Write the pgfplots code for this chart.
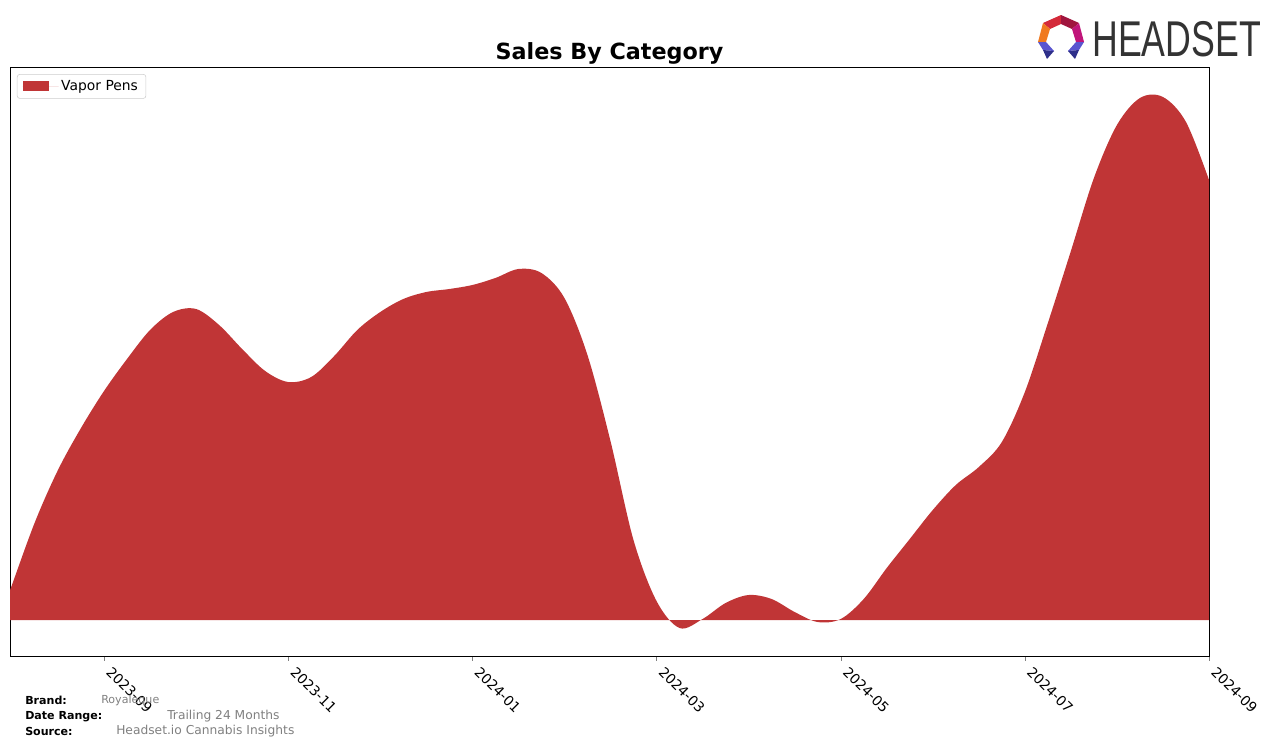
\documentclass[border=0pt]{standalone}
\usepackage{pgfplots}
\pgfplotsset{compat=1.18}
\usepackage{fontspec}
\setmainfont{DejaVu Sans}
\newfontfamily\logofont{Liberation Sans}
\definecolor{vp}{HTML}{C03536}
\definecolor{footgray}{HTML}{808080}
\definecolor{logogray}{HTML}{333333}
\definecolor{lgA}{HTML}{D42A3A}
\definecolor{lgB}{HTML}{A0153E}
\definecolor{lgC}{HTML}{C0157A}
\definecolor{lgD}{HTML}{F07A20}
\definecolor{lgE}{HTML}{5A55D0}
\definecolor{lgF}{HTML}{2E2F8A}
\begin{document}
\begin{tikzpicture}
\useasboundingbox (0,0) rectangle (957pt,-560.25pt);
\begin{axis}[
  at={(7.5pt,-492pt)}, anchor=south west,
  scale only axis, width=899.25pt, height=441.75pt,
  xmin=-1.021, xmax=12, ymin=-36, ymax=553,
  xtick={0,2,4,6,8,10,12},
  xticklabels={2023-09,2023-11,2024-01,2024-03,2024-05,2024-07,2024-09},
  xtick pos=bottom, tick align=outside, major tick length=3.6pt,
  x tick label style={xshift=6.5pt, yshift=-2pt, rotate=-45, anchor=north west, font=\fontsize{10.4pt}{12pt}\selectfont, inner sep=1pt},
  ytick=\empty,
  axis line style={line width=0.6pt},
  legend style={at={(0.0058,0.988)}, anchor=north west, draw=black!20, rounded corners=2pt,
    font=\fontsize{10.4pt}{12pt}\selectfont, inner xsep=4pt, inner ysep=2.5pt},
  legend cell align=left,
]
\addplot[fill=vp, draw=none, smooth, tension=0.55,
  area legend,
  legend image code/.code={\fill[vp, sharp corners] (0pt,-3.75pt) rectangle (20pt,3.75pt); \path (0pt,0pt) -- (27pt,0pt);}]
 coordinates {
(-1.021,30) (-1.0,35) (-0.75,98) (-0.5,150) (-0.25,192) (0,229) (0.25,261) (0.5,290)
(0.75,308) (1.0,311) (1.25,295) (1.5,271) (1.75,249) (2.0,238) (2.25,243)
(2.5,264) (2.75,290) (3.0,308) (3.25,321) (3.5,328) (3.75,331) (4.0,335)
(4.25,342) (4.5,351) (4.75,347) (5.0,322) (5.25,265) (5.5,179) (5.75,80)
(6.0,19) (6.25,-8) (6.5,1) (6.75,17) (7.0,25) (7.25,21) (7.5,8) (7.75,-2)
(8.0,1) (8.25,21) (8.5,52) (8.75,81) (9.0,110) (9.25,135) (9.5,153) (9.75,178)
(10.0,228) (10.25,297) (10.5,369) (10.75,442) (11.0,495) (11.25,522) (11.5,523)
(11.75,498) (12.0,440)
} \closedcycle;
\addlegendentry{Vapor Pens}
\end{axis}
\begin{scope}[x=0.75pt,y=-0.75pt]
\node[font=\fontsize{16.7pt}{20pt}\selectfont\bfseries] at (609.5,53) {Sales By Category};
% footer
\node[anchor=west, inner sep=0, font=\fontsize{8.3pt}{10pt}\selectfont\bfseries] at (25,700) {Brand:};
\node[anchor=west, inner sep=0, font=\fontsize{8.3pt}{10pt}\selectfont\bfseries] at (25,716.5) {Date Range:};
\node[anchor=west, inner sep=0, font=\fontsize{8.3pt}{10pt}\selectfont\bfseries] at (25,731.5) {Source:};
\node[anchor=west, inner sep=0, text=footgray, font=\fontsize{8.3pt}{10pt}\selectfont] at (101,700) {Royaleque};
\node[anchor=west, inner sep=0, text=footgray, font=\fontsize{9.2pt}{11pt}\selectfont] at (167,716.5) {Trailing 24 Months};
\node[anchor=west, inner sep=0, text=footgray, font=\fontsize{9.2pt}{11pt}\selectfont] at (116,731.5) {Headset.io Cannabis Insights};
% logo
\fill[lgA] (1043,23) -- (1061,15) -- (1061,24) -- (1050,29) -- cycle;
\fill[lgB] (1061,15) -- (1079,23) -- (1072,29) -- (1061,24) -- cycle;
\fill[lgC] (1079,23) -- (1084,42) -- (1076,42) -- (1072,29) -- cycle;
\fill[lgD] (1043,23) -- (1050,29) -- (1046,42) -- (1038,42) -- cycle;
\fill[lgE] (1038,42) -- (1046,42) -- (1054,51) -- (1043,50) -- cycle;
\fill[lgF] (1043,50) -- (1054,51) -- (1047,59) -- cycle;
\fill[lgE] (1084,42) -- (1076,42) -- (1068,51) -- (1079,50) -- cycle;
\fill[lgF] (1079,50) -- (1068,51) -- (1075,59) -- cycle;
\node[anchor=base west, inner sep=0, text=logogray, font=\logofont\fontsize{37.7pt}{40pt}\selectfont] at (1092,56) {\scalebox{0.71}[1]{HEADSET}};
\end{scope}
\end{tikzpicture}
\end{document}
